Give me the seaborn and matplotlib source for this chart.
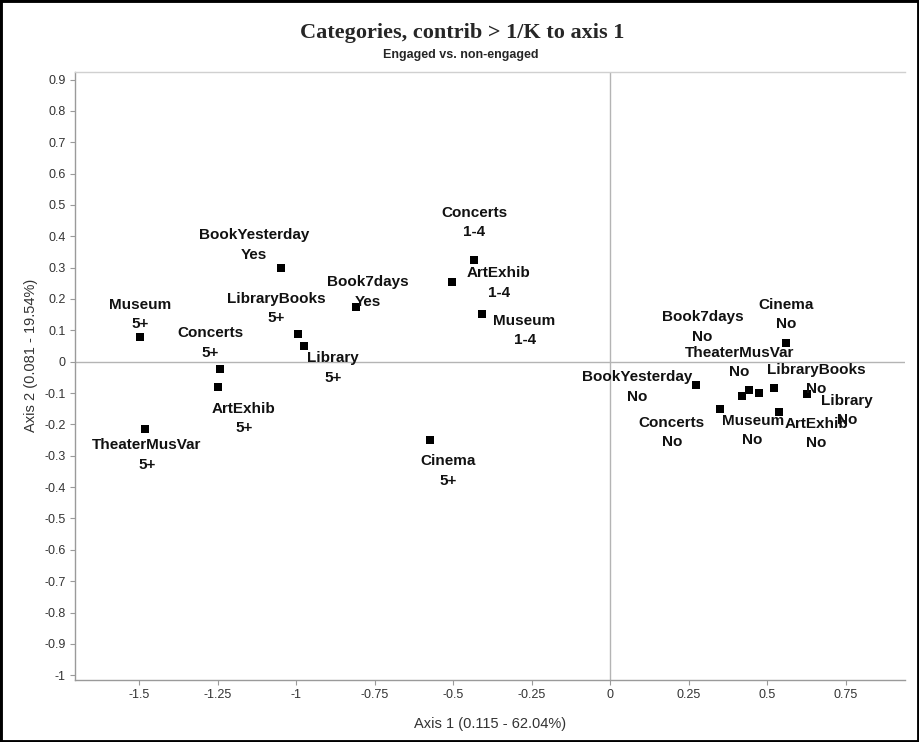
import matplotlib
matplotlib.use("Agg")
import matplotlib.pyplot as plt
from matplotlib.patches import Rectangle
import pandas as pd
import seaborn as sns

# Active categories of the MCA with contribution > 1/K to axis 1
variables = [
    "BookYesterday", "Book7days", "Museum", "LibraryBooks", "Library", "Concerts",
    "ArtExhib", "TheaterMusVar", "Concerts", "ArtExhib", "Museum", "Cinema",
    "Cinema", "BookYesterday", "Book7days", "TheaterMusVar", "Museum",
    "LibraryBooks", "Library", "Concerts", "ArtExhib",
]
levels = [
    "Yes", "Yes", "5+", "5+", "5+", "5+",
    "5+", "5+", "1-4", "1-4", "1-4", "5+",
    "No", "No", "No", "No", "No",
    "No", "No", "No", "No",
]
axis1 = [
    -1.047, -0.809, -1.496, -0.993, -0.975, -1.241,
    -1.249, -1.481, -0.433, -0.504, -0.409, -0.573,
    0.560, 0.274, 0.419, 0.443, 0.475,
    0.521, 0.628, 0.350, 0.537,
]
axis2 = [
    0.299, 0.175, 0.079, 0.089, 0.050, -0.023,
    -0.080, -0.215, 0.325, 0.254, 0.151, -0.250,
    0.061, -0.074, -0.109, -0.089, -0.099,
    -0.083, -0.104, -0.152, -0.159,
]

x_ticks = [-1.5, -1.25, -1.0, -0.75, -0.5, -0.25, 0.0, 0.25, 0.5, 0.75]
y_ticks = [0.9, 0.8, 0.7, 0.6, 0.5, 0.4, 0.3, 0.2, 0.1, 0.0,
           -0.1, -0.2, -0.3, -0.4, -0.5, -0.6, -0.7, -0.8, -0.9, -1.0]

title = "Categories, contrib > 1/K to axis 1"
subtitle = "Engaged vs. non-engaged"
x_label = "Axis 1 (0.115 - 62.04%)"
y_label = "Axis 2 (0.081 - 19.54%)"

# Label placement around each point (pixels, centre of the two-line label)
label_offsets = [
    (-27, 23), (12, 15), (0, 22.5), (-22, 25), (29, -22), (-10, 26),
    (26, -32), (2, -26), (0, 37), (47, -1), (43, -16), (18, -31),
    (0, 28), (-59, -2), (-39, 69), (-10, 27), (-6.5, -38),
    (43, 8), (40, -16), (-48, -23), (38, -22),
]

df = pd.DataFrame({"variable": variables, "level": levels,
                   "axis1": axis1, "axis2": axis2})

sns.set_theme(style="white")
plt.rcParams["font.family"] = ["Liberation Sans", "DejaVu Sans"]

W, H = 919, 742
fig = plt.figure(figsize=(W / 100, H / 100), dpi=100)
left_px, right_px, top_px, bottom_px = 75, 905, 72, 680
ax = fig.add_axes([left_px / W, 1 - bottom_px / H,
                   (right_px - left_px) / W, (bottom_px - top_px) / H])

grey = "#9a9a9a"
ax.axhline(0, color="#b4b4b4", lw=1.0, zorder=1)
ax.axvline(0, color="#b4b4b4", lw=1.0, zorder=1)

sns.scatterplot(data=df, x="axis1", y="axis2", marker="s", s=30,
                color="black", edgecolor="black", linewidth=0, ax=ax,
                zorder=3, legend=False)

for (_, row), (dx, dy) in zip(df.iterrows(), label_offsets):
    for text, shift in ((row["variable"], 9.7), (row["level"], -9.7)):
        ax.annotate(text, (row["axis1"], row["axis2"]),
                    xytext=(dx, dy + shift), textcoords="offset pixels",
                    ha="center", va="center", fontsize=11,
                    fontweight="bold", color="#111111", zorder=4)

ax.set_xlim(-1.704, 0.9395)
ax.set_ylim(-1.0153, 0.924)
ax.set_xticks(x_ticks)
ax.set_xticklabels([f"{v:g}" for v in x_ticks])
ax.set_yticks(y_ticks)
ax.set_yticklabels([f"{v:g}" for v in y_ticks])
ax.tick_params(axis="both", direction="out", length=3.5, width=0.8,
               color=grey, labelcolor="#333333", labelsize=9, pad=3,
               bottom=True, left=True)

for side in ("left", "bottom", "top"):
    ax.spines[side].set_color(grey)
    ax.spines[side].set_linewidth(1.0)
ax.spines["right"].set_visible(False)
ax.spines["top"].set_color("#d0d0d0")

ax.set_xlabel(x_label, fontsize=10.5, color="#333333")
ax.set_ylabel(y_label, fontsize=10.5, color="#333333")
ax.xaxis.set_label_coords(0.5, -0.061)
ax.yaxis.set_label_coords(-0.0446, 0.534)

fig.text(462 / W, 1 - 33 / H, title, ha="center", va="center",
         fontsize=16, fontweight="bold",
         family=["Liberation Serif", "DejaVu Serif"])
fig.text(461 / W, 1 - 55 / H, subtitle, ha="center", va="center",
         fontsize=9, fontweight="bold")

fig.patches.append(Rectangle((0, 0), 1, 1, transform=fig.transFigure,
                             fill=False, edgecolor="black", lw=3.5))

fig.savefig("out.png", dpi=100)
